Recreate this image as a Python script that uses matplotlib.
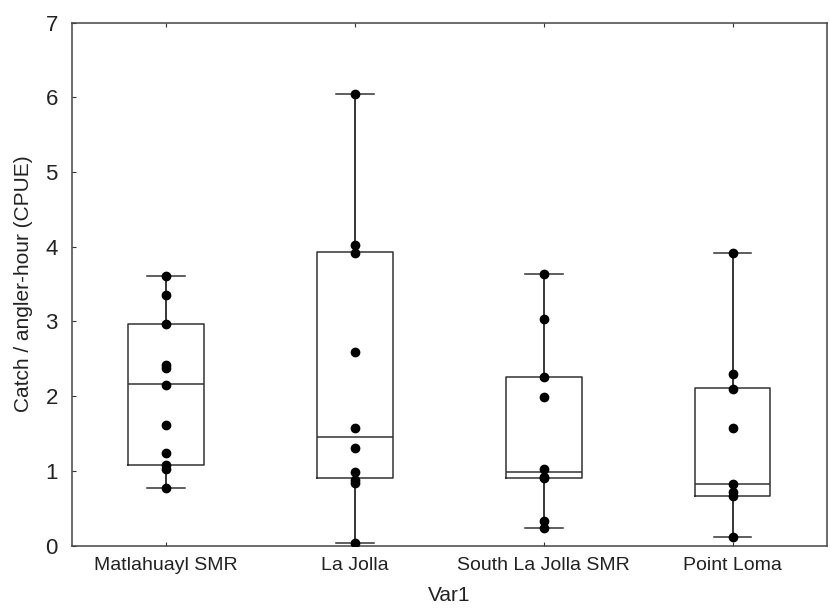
import matplotlib
matplotlib.use("Agg")
import matplotlib.pyplot as plt

plt.rcParams['font.family'] = ['Liberation Sans', 'DejaVu Sans']

# Sites and individual CPUE values
sites = ['Matlahuayl SMR', 'La Jolla', 'South La Jolla SMR', 'Point Loma']
points = [
    [3.61, 3.35, 2.96, 2.42, 2.38, 2.15, 1.62, 1.24, 1.08, 1.03, 0.77],
    [6.04, 4.03, 3.92, 2.59, 1.57, 1.31, 0.99, 0.88, 0.84, 0.04],
    [3.63, 3.03, 2.25, 1.99, 1.02, 0.92, 0.90, 0.33, 0.23],
    [3.92, 2.30, 2.09, 1.58, 0.82, 0.72, 0.66, 0.12],
]

# Box statistics
q1 = [1.08, 0.90, 0.91, 0.66]
median = [2.16, 1.45, 0.98, 0.82]
q3 = [2.97, 3.93, 2.25, 2.11]
whis_lo = [0.77, 0.04, 0.23, 0.12]
whis_hi = [3.61, 6.04, 3.63, 3.92]

stats = []
for i, s in enumerate(sites):
    stats.append(dict(label=s, med=median[i], q1=q1[i], q3=q3[i],
                      whislo=whis_lo[i], whishi=whis_hi[i], fliers=[]))

fig = plt.figure(figsize=(8.3, 6.13), dpi=100)
ax = fig.add_axes([0.0864, 0.110, 0.9100, 0.853])

pos = list(range(1, len(sites) + 1))
lw = 1.1
ax.bxp(stats, positions=pos, widths=0.4, showfliers=False,
       boxprops=dict(color='#333333', linewidth=lw),
       medianprops=dict(color='#333333', linewidth=lw),
       whiskerprops=dict(color='black', linewidth=lw),
       capprops=dict(color='#333333', linewidth=lw), capwidths=0.2)

for p, vals in zip(pos, points):
    ax.plot([p] * len(vals), vals, 'o', color='black', markersize=6, zorder=3)

ax.set_xlim(0.5, 4.5)
ax.set_ylim(0, 7)
ax.set_yticks(range(0, 8))
ax.set_xticks(pos)
ax.set_xticklabels(sites)
ax.tick_params(direction='in', length=3, colors='#333333',
               labelcolor='#222222', top=True)
ax.tick_params(axis='y', pad=10, labelsize=16)
ax.tick_params(axis='x', pad=8, labelsize=14)
for sp in ax.spines.values():
    sp.set_color('#444444')
    sp.set_linewidth(1.1)

ax.set_ylabel('Catch / angler-hour (CPUE)', fontsize=15, color='#222222', labelpad=9)
ax.set_xlabel('Var1', fontsize=15, color='#222222', labelpad=9)

fig.savefig('out.png', dpi=100)
